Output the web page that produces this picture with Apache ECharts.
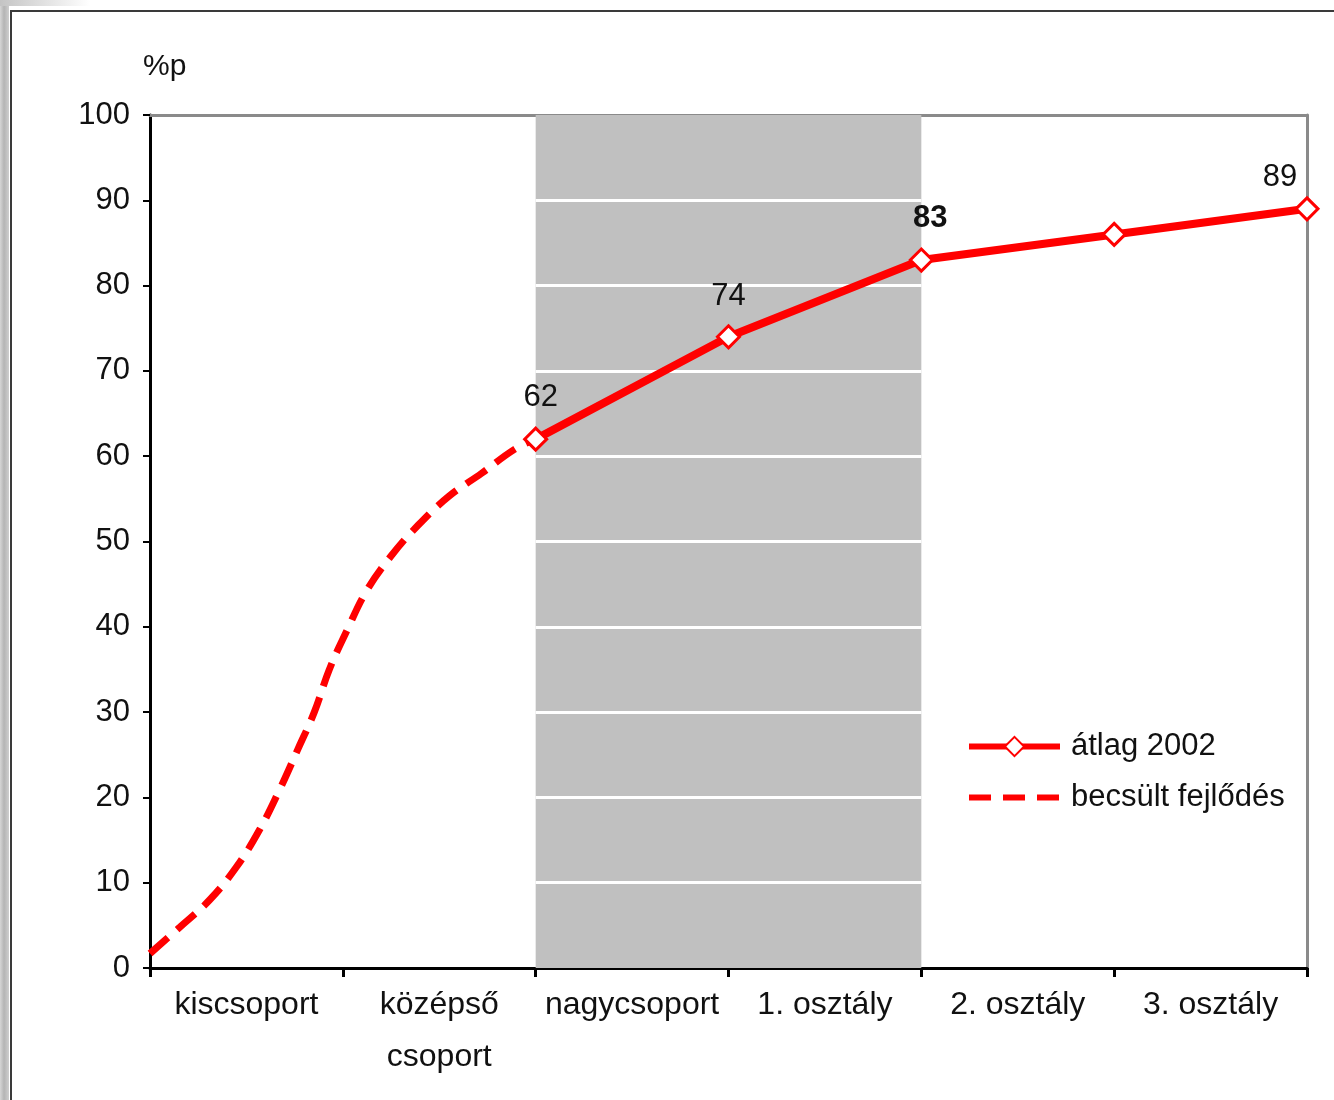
<!DOCTYPE html>
<html><head><meta charset="utf-8">
<script src="https://cdn.jsdelivr.net/npm/echarts@6/dist/echarts.min.js"></script>
<style>
html,body{margin:0;padding:0;background:#fff;}
#wrap{position:relative;width:1334px;height:1100px;overflow:hidden;background:#fff;}
#chart{position:absolute;left:0;top:0;width:1334px;height:1100px;}
#fl{position:absolute;left:0;top:0;width:9px;height:1100px;background:linear-gradient(to right,#d6d6d6,#b4b4b4 45%,#cfcfcf);}
#ft{position:absolute;left:0;top:0;width:90px;height:6px;background:linear-gradient(to right,#c4c4c4,#ffffff);}
#bl{position:absolute;left:10px;top:10px;width:2px;height:1090px;background:#3a3a3a;}
#bt{position:absolute;left:10px;top:10px;width:1324px;height:2px;background:#3a3a3a;}
</style></head>
<body>
<div id="wrap">
  <div id="chart"></div>
  <div id="fl"></div><div id="ft"></div><div id="bl"></div><div id="bt"></div>
</div>
<script>
// ---- data ----
const categories = ['kiscsoport', 'középső\ncsoport', 'nagycsoport', '1. osztály', '2. osztály', '3. osztály'];
const actualX = [2, 3, 4, 5, 6];
const actualY = [62, 74, 83, 86, 89];
const estimatedX = [0, 0.155, 0.31, 0.447, 0.568, 0.67, 0.766, 0.852, 0.93, 1.02, 1.12, 1.25, 1.39, 1.55, 1.72, 1.89, 2];
const estimatedY = [1.7, 4.8, 8, 11.8, 16.2, 20.8, 25.6, 30, 35, 39.5, 44.1, 48.3, 51.9, 55.3, 58, 60.8, 62];
const yTickValues = [10, 20, 30, 40, 50, 60, 70, 80, 90];
const bandFrom = 2, bandTo = 4;
const seriesNames = ['átlag 2002', 'becsült fejlődés'];
const unitLabel = '%p';

// ---- styling helpers ----
const FONT = '"Liberation Sans", Arial, sans-serif';
const RED = '#ff0000';
const labelStyles = [
  {show: true, position: 'top', distance: 14, offset: [5, 0]},
  {show: true, position: 'top', distance: 12, offset: [0, 0]},
  {show: true, position: 'top', distance: 14, offset: [9, 0], fontWeight: 'bold'},
  {show: false},
  {show: true, position: 'top', distance: 3, offset: [-27, 0]}
];

const chart = echarts.init(document.getElementById('chart'), null, {renderer: 'canvas'});
const option = {
  backgroundColor: 'transparent',
  animation: false,
  textStyle: {fontFamily: FONT},
  title: {text: unitLabel, left: 138, top: 47, textStyle: {fontFamily: FONT, fontSize: 30, fontWeight: 'normal', color: '#111'}},
  grid: {left: 150, right: 27, top: 115, bottom: 132, show: false},
  legend: {
    orient: 'vertical', left: 966, top: 731, padding: 0,
    itemWidth: 91, itemHeight: 24, itemGap: 20,
    textStyle: {fontFamily: FONT, fontSize: 31, color: '#111', padding: [0, 0, 0, 6]},
    data: [
      {name: seriesNames[0], lineStyle: {width: 6, color: RED}},
      {name: seriesNames[1], lineStyle: {width: 6, color: RED, type: [22, 12]}, itemStyle: {opacity: 0}}
    ]
  },
  xAxis: [
    {type: 'value', min: 0, max: 6, interval: 1, position: 'bottom',
     axisLine: {show: true, onZero: false, lineStyle: {color: '#000', width: 3}},
     axisTick: {show: true, length: 9, lineStyle: {color: '#000', width: 3}},
     axisLabel: {show: false}, splitLine: {show: false}},
    {type: 'category', data: categories, boundaryGap: true, position: 'bottom',
     axisLine: {show: false}, axisTick: {show: false}, splitLine: {show: false},
     axisLabel: {interval: 0, fontFamily: FONT, fontSize: 32, color: '#111', margin: 11, lineHeight: 52}},
    {type: 'value', min: 0, max: 6, position: 'top',
     axisLine: {show: true, onZero: false, lineStyle: {color: '#8a8a8a', width: 3}},
     axisTick: {show: false}, axisLabel: {show: false}, splitLine: {show: false}}
  ],
  yAxis: [
    {type: 'value', min: 0, max: 100, interval: 10, position: 'left',
     axisLine: {show: true, onZero: false, lineStyle: {color: '#000', width: 3}},
     axisTick: {show: true, length: 7, lineStyle: {color: '#000', width: 2}},
     axisLabel: {fontFamily: FONT, fontSize: 31, color: '#111', margin: 20},
     splitLine: {show: false}},
    {type: 'value', min: 0, max: 100, position: 'right',
     axisLine: {show: true, onZero: false, lineStyle: {color: '#8a8a8a', width: 3}},
     axisTick: {show: false}, axisLabel: {show: false}, splitLine: {show: false}}
  ],
  series: [
    {
      name: 'band', type: 'line', xAxisIndex: 0, yAxisIndex: 0, z: 1, silent: true,
      data: [[bandFrom, null]], showSymbol: false, lineStyle: {width: 0},
      markArea: {silent: true, z: 1, itemStyle: {color: '#c0c0c0'},
        data: [[{coord: [bandFrom, 0]}, {coord: [bandTo, 100]}]]},
      markLine: {silent: true, z: 2, symbol: ['none', 'none'], label: {show: false},
        lineStyle: {color: '#ffffff', width: 3, type: 'solid'},
        data: yTickValues.map(v => [{coord: [bandFrom, v]}, {coord: [bandTo, v]}])}
    },
    {
      name: seriesNames[1], type: 'line', xAxisIndex: 0, yAxisIndex: 0, z: 3,
      smooth: 0.4, showSymbol: false, symbol: 'none',
      data: estimatedX.map((x, i) => [x, estimatedY[i]]),
      itemStyle: {color: RED},
      lineStyle: {color: RED, width: 7, type: [24, 12]}
    },
    {
      name: seriesNames[0], type: 'line', xAxisIndex: 0, yAxisIndex: 0, z: 4,
      symbol: 'diamond', symbolSize: 22,
      data: actualX.map((x, i) => ({value: [x, actualY[i]], label: labelStyles[i]})),
      itemStyle: {color: '#ffffff', borderColor: RED, borderWidth: 3},
      lineStyle: {color: RED, width: 8},
      label: {fontFamily: FONT, fontSize: 31, color: '#111', formatter: p => p.value[1]}
    }
  ]
};
chart.setOption(option);
</script>
</body></html>
